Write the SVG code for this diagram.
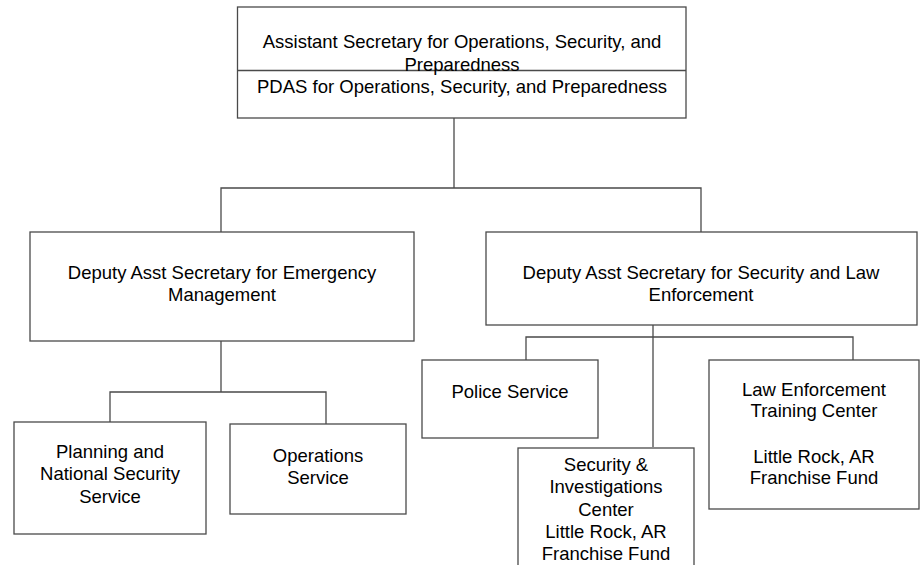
<svg xmlns="http://www.w3.org/2000/svg" width="920" height="565" viewBox="0 0 920 565">
<style>
.box{fill:#fff;stroke:#4a4a4a;stroke-width:1.3}
.ln{fill:none;stroke:#4a4a4a;stroke-width:1.3}
text{font-family:"Liberation Sans",Arial,sans-serif;font-size:18.5px;fill:#000;text-anchor:middle}
</style>
<rect width="920" height="565" fill="#fff"/>
<g id="connectors">
<polyline class="ln" points="454,118 454,188"/>
<polyline class="ln" points="221,232 221,188 701,188 701,232"/>
<polyline class="ln" points="221,341 221,392"/>
<polyline class="ln" points="110,422 110,392 326,392 326,424"/>
<polyline class="ln" points="653,325 653,447"/>
<polyline class="ln" points="526,360 526,337 853,337 853,360"/>
</g>
<g id="asst-secretary">
<rect class="box" x="237.5" y="7" width="448.5" height="111"/>
<line class="ln" x1="237.5" y1="70.5" x2="686" y2="70.5"/>
<text x="462" y="48">Assistant Secretary for Operations, Security, and</text>
<text x="462" y="70.5">Preparedness</text>
<text x="462" y="92.5">PDAS for Operations, Security, and Preparedness</text>
</g>
<g id="das-em">
<rect class="box" x="30" y="232" width="384" height="109"/>
<text x="222" y="278.5">Deputy Asst Secretary for Emergency</text>
<text x="222" y="300.5">Management</text>
</g>
<g id="das-sle">
<rect class="box" x="486" y="232" width="431" height="93"/>
<text x="701" y="278.5">Deputy Asst Secretary for Security and Law</text>
<text x="701" y="300.5">Enforcement</text>
</g>
<g id="planning">
<rect class="box" x="14" y="422" width="192" height="112"/>
<text x="110" y="457.5">Planning and</text>
<text x="110" y="479.5">National Security</text>
<text x="110" y="502.5">Service</text>
</g>
<g id="operations">
<rect class="box" x="230" y="424" width="176" height="90"/>
<text x="318" y="461.5">Operations</text>
<text x="318" y="483.5">Service</text>
</g>
<g id="police">
<rect class="box" x="422" y="360" width="176" height="78"/>
<text x="510" y="397.5">Police Service</text>
</g>
<g id="security-investigations">
<rect class="box" x="518" y="448" width="176" height="130"/>
<text x="606" y="470.5">Security &amp;</text>
<text x="606" y="493">Investigations</text>
<text x="606" y="515.5">Center</text>
<text x="606" y="538">Little Rock, AR</text>
<text x="606" y="559.5">Franchise Fund</text>
</g>
<g id="law-enforcement">
<rect class="box" x="709" y="360" width="210" height="149"/>
<text x="814" y="395.5">Law Enforcement</text>
<text x="814" y="417">Training Center</text>
<text x="814" y="463">Little Rock, AR</text>
<text x="814" y="484">Franchise Fund</text>
</g>
</svg>
